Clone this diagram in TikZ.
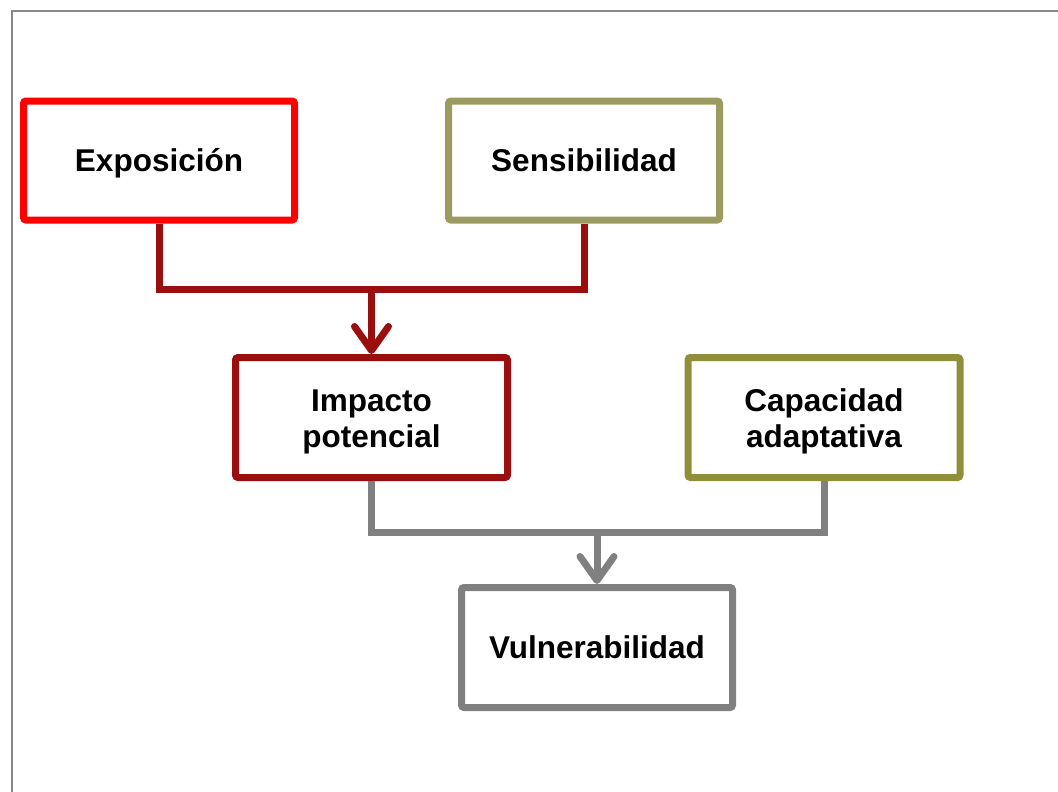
\documentclass[tikz,border=0pt]{standalone}
\usepackage{fontspec}
\setmainfont{Liberation Sans}
\usetikzlibrary{arrows.meta}
\definecolor{cexpo}{RGB}{255,0,0}
\definecolor{csens}{RGB}{155,155,97}
\definecolor{cimp}{RGB}{155,14,14}
\definecolor{ccap}{RGB}{143,143,58}
\definecolor{cvul}{RGB}{128,128,128}
\definecolor{cframe}{RGB}{136,136,136}
\newcommand{\topstrut}{\rule{0pt}{30pt}}
\tikzset{
  boxnode/.style={draw, line width=7pt, rounded corners=2.5pt, fill=white,
    minimum width=271pt, minimum height=119pt, inner sep=0pt, align=center,
    font=\fontsize{31.5}{36}\selectfont\bfseries},
  link/.style={line width=7pt, line join=miter},
  tip/.style={-{Straight Barb[length=24pt, width=34pt, line cap=round, line join=round]}}
}
\begin{document}
\begin{tikzpicture}[x=1pt, y=-1pt]
\useasboundingbox (0,0) rectangle (1058,792);
\clip (0,0) rectangle (1058,792);
\draw[cframe, line width=2pt] (11.5,11) rectangle (1080,820);
\node[boxnode, draw=cexpo, text height=22.6pt, text depth=0pt] (expo) at (159,160.5) {Exposición};
\node[boxnode, draw=csens] (sens) at (584,160.5) {Sensibilidad};
\node[boxnode, draw=cimp, minimum width=272pt, minimum height=120pt] (imp) at (371.5,417.5) {\topstrut Impacto\\potencial};
\node[boxnode, draw=ccap, minimum width=272pt, minimum height=120pt] (cap) at (824,417.5) {\topstrut Capacidad\\adaptativa};
\node[boxnode, draw=cvul, minimum height=120pt] (vul) at (597,647.5) {Vulnerabilidad};
\coordinate (j1) at (imp.north |- 0,289);
\coordinate (j2) at (vul.north |- 0,532.5);
\draw[link, cimp] (expo.south) |- (j1) -| (sens.south);
\draw[link, cimp, tip] (j1) -- (imp.north);
\draw[link, cvul] (imp.south) |- (j2) -| (cap.south);
\draw[link, cvul, tip] (j2) -- (vul.north);
\end{tikzpicture}
\end{document}
